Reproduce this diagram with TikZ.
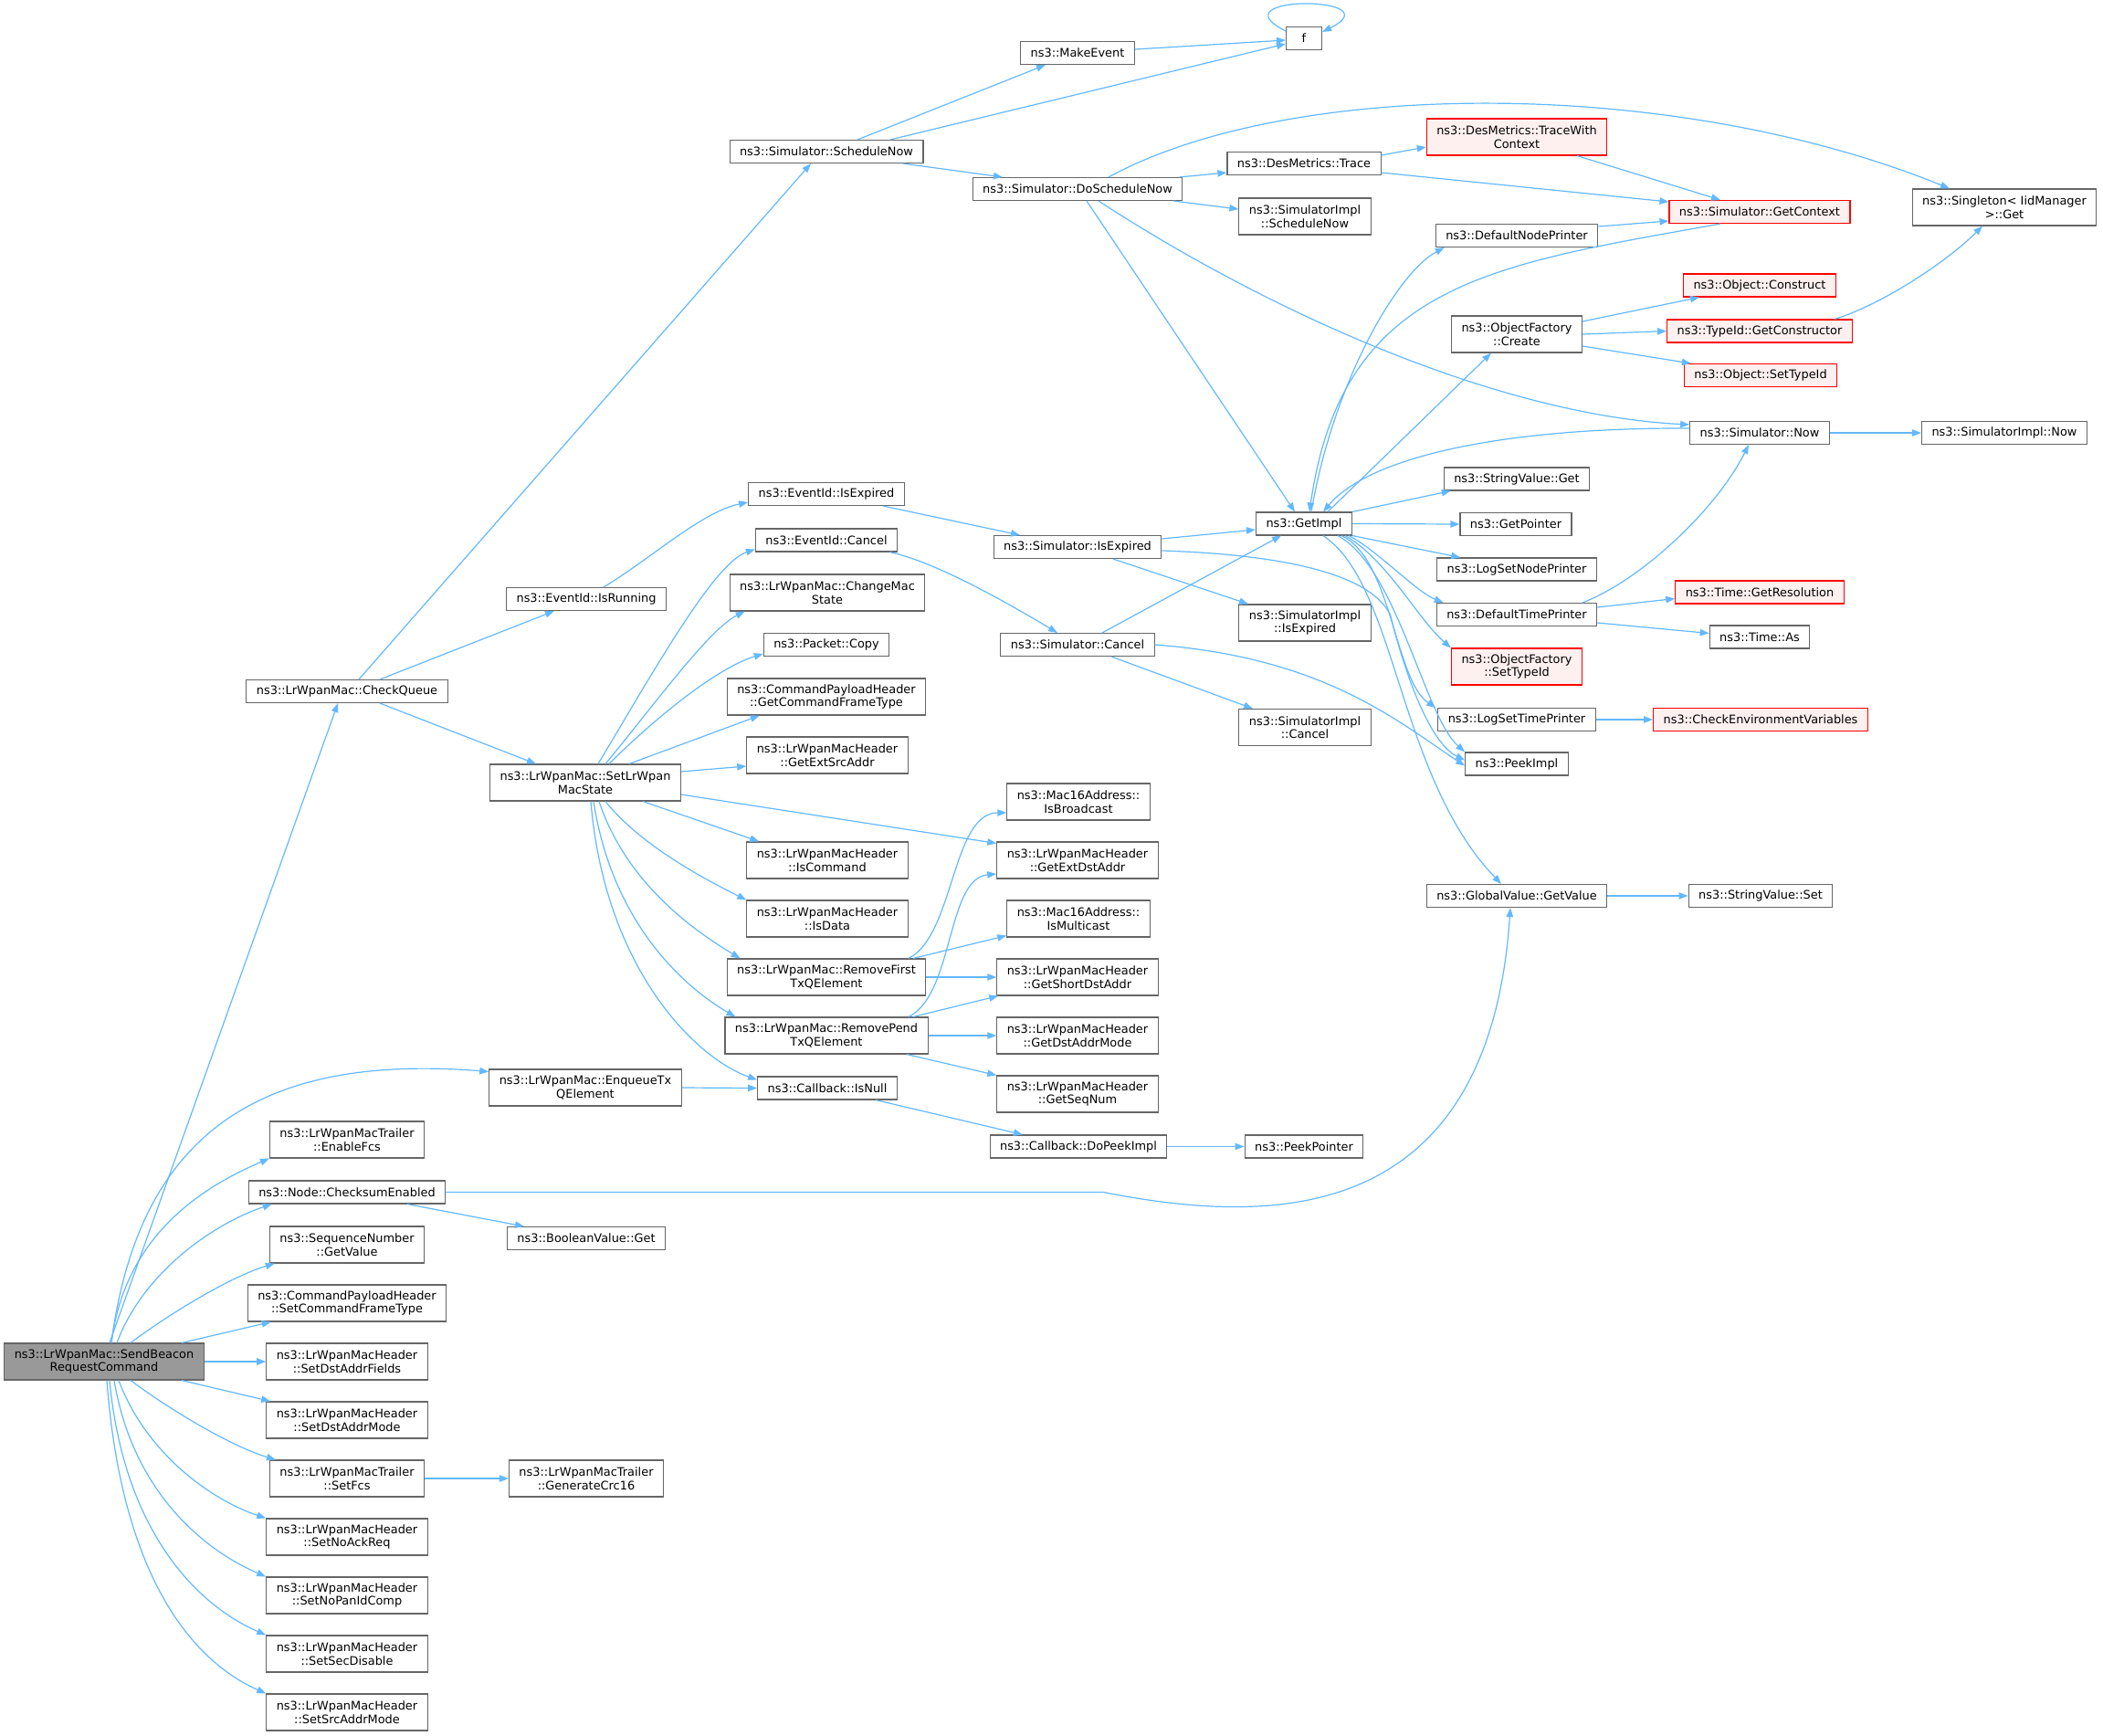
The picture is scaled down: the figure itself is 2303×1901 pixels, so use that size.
\documentclass[tikz,border=0pt]{standalone}
\usepackage{fontspec}
\setmainfont{DejaVu Sans}
\usetikzlibrary{arrows.meta}
\definecolor{edgeblue}{HTML}{63B8FF}
\definecolor{boxgrey}{HTML}{666666}
\definecolor{boxred}{HTML}{FF0000}
\definecolor{redfill}{HTML}{FFF0F0}
\definecolor{rootfill}{HTML}{999999}
\begin{document}
\begin{tikzpicture}[x=0.5pt, y=-0.5pt,
    fn/.style={draw=boxgrey, line width=0.55pt, fill=white, inner xsep=5.5pt, inner ysep=0pt,
      minimum height=12.5pt, align=center, font=\fontsize{6.45}{7.3}\selectfont},
    two/.style={minimum height=20pt},
    fnred/.style={fn, draw=boxred, fill=redfill},
    fnroot/.style={fn, fill=rootfill},
    callarrow/.style={draw=edgeblue, line width=0.6pt, -{Triangle[length=5pt,width=3.7pt]}}]
        \useasboundingbox (0,0) rectangle (2303,1901);

        % caller and first level
        \node[fnroot, two] (root) at (114,1491) {ns3::LrWpanMac::SendBeacon\\RequestCommand};
        \node[fn] (cq) at (380,757) {ns3::LrWpanMac::CheckQueue};
        \node[fn, two] (efcs) at (380,1248) {ns3::LrWpanMacTrailer\\::EnableFcs};
        \node[fn] (cse) at (380,1305.5) {ns3::Node::ChecksumEnabled};
        \node[fn, two] (sqv) at (380,1363) {ns3::SequenceNumber\\::GetValue};
        \node[fn, two] (scft) at (380,1427) {ns3::CommandPayloadHeader\\::SetCommandFrameType};
        \node[fn, two] (sdaf) at (380,1491) {ns3::LrWpanMacHeader\\::SetDstAddrFields};
        \node[fn, two] (sdam) at (380,1555) {ns3::LrWpanMacHeader\\::SetDstAddrMode};
        \node[fn, two] (sfcs) at (380,1619) {ns3::LrWpanMacTrailer\\::SetFcs};
        \node[fn, two] (snar) at (380,1683) {ns3::LrWpanMacHeader\\::SetNoAckReq};
        \node[fn, two] (snpc) at (380,1747) {ns3::LrWpanMacHeader\\::SetNoPanIdComp};
        \node[fn, two] (ssd) at (380,1811) {ns3::LrWpanMacHeader\\::SetSecDisable};
        \node[fn, two] (ssam) at (380,1875) {ns3::LrWpanMacHeader\\::SetSrcAddrMode};

        \node[fn] (ir) at (642,656) {ns3::EventId::IsRunning};
        \node[fn, two] (slm) at (641,857) {ns3::LrWpanMac::SetLrWpan\\MacState};
        \node[fn, two] (enq) at (641,1191) {ns3::LrWpanMac::EnqueueTx\\QElement};
        \node[fn] (bvg) at (642,1356) {ns3::BooleanValue::Get};
        \node[fn, two] (gcrc) at (642,1619) {ns3::LrWpanMacTrailer\\::GenerateCrc16};

        \node[fn] (sn) at (905,166) {ns3::Simulator::ScheduleNow};
        \node[fn] (eie) at (905,541) {ns3::EventId::IsExpired};
        \node[fn] (ecl) at (905,591.5) {ns3::EventId::Cancel};
        \node[fn, two] (cms) at (906,649) {ns3::LrWpanMac::ChangeMac\\State};
        \node[fn] (pcp) at (905,706) {ns3::Packet::Copy};
        \node[fn, two] (gcft) at (905,763) {ns3::CommandPayloadHeader\\::GetCommandFrameType};
        \node[fn, two] (gesa) at (906,827) {ns3::LrWpanMacHeader\\::GetExtSrcAddr};
        \node[fn, two] (isc) at (906,942) {ns3::LrWpanMacHeader\\::IsCommand};
        \node[fn, two] (isd) at (906,1006) {ns3::LrWpanMacHeader\\::IsData};
        \node[fn, two] (rfx) at (905,1070) {ns3::LrWpanMac::RemoveFirst\\TxQElement};
        \node[fn, two] (rpx) at (905,1134) {ns3::LrWpanMac::RemovePend\\TxQElement};
        \node[fn] (isn) at (906,1191.5) {ns3::Callback::IsNull};

        \node[fn] (mke) at (1180,58) {ns3::MakeEvent};
        \node[fn] (dsn) at (1180,207) {ns3::Simulator::DoScheduleNow};
        \node[fn] (sie) at (1180,599) {ns3::Simulator::IsExpired};
        \node[fn] (scl) at (1180,706) {ns3::Simulator::Cancel};
        \node[fn, two] (ibc) at (1181,878) {ns3::Mac16Address::\\IsBroadcast};
        \node[fn, two] (geda) at (1180,942) {ns3::LrWpanMacHeader\\::GetExtDstAddr};
        \node[fn, two] (imc) at (1181,1006) {ns3::Mac16Address::\\IsMulticast};
        \node[fn, two] (gsda) at (1180,1070) {ns3::LrWpanMacHeader\\::GetShortDstAddr};
        \node[fn, two] (gdam) at (1180,1134) {ns3::LrWpanMacHeader\\::GetDstAddrMode};
        \node[fn, two] (gsn) at (1180,1198) {ns3::LrWpanMacHeader\\::GetSeqNum};
        \node[fn] (dpi) at (1181,1255.5) {ns3::Callback::DoPeekImpl};

        \node[fn, minimum width=19.5pt] (fq) at (1428,42) {f};
        \node[fn] (dmt) at (1428,179) {ns3::DesMetrics::Trace};
        \node[fn, two] (sisn) at (1429,237) {ns3::SimulatorImpl\\::ScheduleNow};
        \node[fn] (gi) at (1428,573.5) {ns3::GetImpl};
        \node[fn, two] (siie) at (1429,682) {ns3::SimulatorImpl\\::IsExpired};
        \node[fn, two] (sicl) at (1429,796.5) {ns3::SimulatorImpl\\::Cancel};
        \node[fn] (ppt) at (1428,1255.5) {ns3::PeekPointer};

        \node[fnred, two] (twc) at (1661,150) {ns3::DesMetrics::TraceWith\\Context};
        \node[fn] (dnp) at (1661,258) {ns3::DefaultNodePrinter};
        \node[fn, two] (ofc) at (1661,366) {ns3::ObjectFactory\\::Create};
        \node[fn] (svg) at (1661,524.5) {ns3::StringValue::Get};
        \node[fn] (gp) at (1660,574) {ns3::GetPointer};
        \node[fn] (lsnp) at (1661,623.5) {ns3::LogSetNodePrinter};
        \node[fn] (dtp) at (1661,673) {ns3::DefaultTimePrinter};
        \node[fnred, two] (ofst) at (1661,730) {ns3::ObjectFactory\\::SetTypeId};
        \node[fn] (lstp) at (1661,788) {ns3::LogSetTimePrinter};
        \node[fn] (pki) at (1661,836.5) {ns3::PeekImpl};
        \node[fn] (ggv) at (1661,981) {ns3::GlobalValue::GetValue};

        \node[fnred] (gctx) at (1927,232) {ns3::Simulator::GetContext};
        \node[fnred] (ocn) at (1927,312.5) {ns3::Object::Construct};
        \node[fnred] (tgc) at (1927,362.5) {ns3::TypeId::GetConstructor};
        \node[fnred] (ost) at (1928,411) {ns3::Object::SetTypeId};
        \node[fn] (snow) at (1927,474) {ns3::Simulator::Now};
        \node[fnred] (tgr) at (1927,648.5) {ns3::Time::GetResolution};
        \node[fn] (tas) at (1927,697.5) {ns3::Time::As};
        \node[fnred] (cev) at (1928,788) {ns3::CheckEnvironmentVariables};
        \node[fn] (svs) at (1928,981) {ns3::StringValue::Set};

        \node[fn, two] (sgl) at (2195,227) {ns3::Singleton< IidManager\\>::Get};
        \node[fn] (sinow) at (2195,474) {ns3::SimulatorImpl::Now};

        % calls of SendBeaconRequestCommand
        \draw[callarrow] ([xshift=3pt]root.north) -- ([xshift=-5pt]cq.south);
        \draw[callarrow] ([xshift=4pt]root.north) .. controls +(30,-230) and +(-250,-20) .. ([yshift=-1.5pt]enq.north west);
        \draw[callarrow] ([xshift=4pt]root.north) .. controls +(15,-120) and +(-70,30) .. (efcs.south west);
        \draw[callarrow] ([xshift=7pt]root.north) .. controls +(30,-80) and +(-60,20) .. ([xshift=13pt]cse.south west);
        \draw[callarrow] ([xshift=14.5pt]root.north) .. controls +(40,-30) and +(-50,15) .. ([xshift=3pt]sqv.south west);
        \draw[callarrow] ([xshift=42.5pt]root.north) -- ([xshift=13pt]scft.south west);
        \draw[callarrow] (root.east) -- (sdaf.west);
        \draw[callarrow] ([xshift=42.5pt]root.south) -- ([xshift=2.5pt]sdam.north west);
        \draw[callarrow] ([xshift=14.5pt]root.south) .. controls +(40,30) and +(-50,-15) .. ([xshift=3.5pt]sfcs.north west);
        \draw[callarrow] ([xshift=8pt]root.south) .. controls +(30,80) and +(-60,-20) .. (snar.north west);
        \draw[callarrow] ([xshift=5.5pt]root.south) .. controls +(20,120) and +(-70,-30) .. (snpc.north west);
        \draw[callarrow] ([xshift=3pt]root.south) .. controls +(15,160) and +(-80,-35) .. (ssd.north west);
        \draw[callarrow] ([xshift=1.5pt]root.south) .. controls +(15,200) and +(-90,-40) .. (ssam.north west);

        \draw[callarrow] ([xshift=6.5pt]cq.north) -- ([xshift=-8.5pt]sn.south);
        \draw[callarrow] ([xshift=18pt]cq.north) -- ([xshift=-17.5pt]ir.south);
        \draw[callarrow] ([xshift=18pt]cq.south) -- ([xshift=-27pt]slm.north);
        \draw[callarrow] ([xshift=9.5pt]ir.north) .. controls +(50,-30) and +(-50,10) .. ([yshift=2pt]eie.south west);

        % SetLrWpanMacState
        \draw[callarrow] ([xshift=7pt]slm.north) .. controls +(60,-100) and +(-45,15) .. ([yshift=-5pt]ecl.west);
        \draw[callarrow] ([xshift=11pt]slm.north) .. controls +(50,-60) and +(-40,20) .. ([xshift=8.5pt]cms.south west);
        \draw[callarrow] ([xshift=13pt]slm.north) .. controls +(50,-50) and +(-50,15) .. ([yshift=-5pt]pcp.west);
        \draw[callarrow] ([xshift=24pt]slm.north) -- ([xshift=18pt]gcft.south west);
        \draw[callarrow] ([yshift=6pt]slm.east) -- ([yshift=-6pt]gesa.west);
        \draw[callarrow] ([yshift=-6.5pt]slm.east) -- ([yshift=-1pt]geda.north west);
        \draw[callarrow] ([xshift=31.5pt]slm.south) -- ([xshift=7pt]isc.north west);
        \draw[callarrow] ([xshift=11pt]slm.south) .. controls +(40,50) and +(-40,-20) .. (isd.north west);
        \draw[callarrow] ([xshift=7.5pt]slm.south) .. controls +(30,90) and +(-50,-30) .. ([xshift=7.5pt]rfx.north west);
        \draw[callarrow] ([xshift=4.5pt]slm.south) .. controls +(20,130) and +(-60,-35) .. ([xshift=6pt]rpx.north west);
        \draw[callarrow] ([xshift=3pt]slm.south) .. controls +(15,180) and +(-70,-25) .. ([yshift=-2pt]isn.north west);

        \draw[callarrow] (enq.east) -- (isn.west);
        \draw[callarrow] ([xshift=26.5pt]isn.south) -- ([xshift=-30.5pt]dpi.north);
        \draw[callarrow] (dpi.east) -- (ppt.west);

        \draw[callarrow] ([xshift=45pt]rfx.north) .. controls +(50,-25) and +(-60,0) .. ([yshift=-6pt]ibc.west);
        \draw[callarrow] ([xshift=47.5pt]rfx.north) -- ([yshift=1pt]imc.south west);
        \draw[callarrow] (rfx.east) -- (gsda.west);
        \draw[callarrow] ([xshift=45pt]rpx.north) .. controls +(50,-25) and +(-55,5) .. ([yshift=-7.5pt]geda.west);
        \draw[callarrow] ([xshift=47.5pt]rpx.north) -- ([xshift=1pt]gsda.south west);
        \draw[callarrow] (rpx.east) -- (gdam.west);
        \draw[callarrow] ([xshift=44pt]rpx.south) -- (gsn.north west);

        \draw[callarrow] ([xshift=31pt]eie.south) -- ([xshift=-31.5pt]sie.north);
        \draw[callarrow] ([xshift=34.5pt]ecl.south) .. controls +(50,10) and +(-50,-30) .. ([xshift=-11pt]scl.north);

        % scheduling
        \draw[callarrow] ([xshift=17pt]sn.north) -- ([xshift=-17.5pt]mke.south);
        \draw[callarrow] ([xshift=35pt]sn.north) -- ([yshift=-3pt]fq.west);
        \draw[callarrow] ([xshift=42pt]sn.south) -- ([xshift=-41pt]dsn.north);
        \draw[callarrow] ([yshift=2pt]mke.east) -- ([yshift=-1pt]fq.west);
        \draw[callarrow] ([yshift=-2.5pt]fq.north west) .. controls +(-80,-40) and +(80,-40) .. ([yshift=-3pt]fq.north east);

        \draw[callarrow] ([xshift=-2pt]dsn.north east) -- ([yshift=-5pt]dmt.west);
        \draw[callarrow] ([xshift=-5pt]dsn.south east) -- ([yshift=4pt]sisn.west);
        \draw[callarrow] ([xshift=5pt]dsn.south) -- ([xshift=-5pt]gi.north);
        \draw[callarrow] ([xshift=11.5pt]dsn.south) .. controls +(200,130) and +(-200,-10) .. ([yshift=4.5pt]snow.west);
        \draw[callarrow] ([xshift=17pt]dsn.north) .. controls +(200,-109) and +(-300,-122) .. ([xshift=-30pt]sgl.north);

        \draw[callarrow] ([yshift=4.5pt]dmt.east) -- ([yshift=-5.5pt]twc.west);
        \draw[callarrow] ([yshift=-5pt]dmt.east) -- ([yshift=5.5pt]gctx.west);
        \draw[callarrow] ([xshift=33pt]twc.south) -- ([xshift=-21.5pt]gctx.north);
        \draw[callarrow] ([yshift=5pt]dnp.east) -- ([yshift=-5pt]gctx.west);
        \draw[callarrow] ([xshift=-21.5pt]gctx.south) .. controls +(-250,45) and +(36,-251) .. ([xshift=3pt]gi.north);
        \draw[callarrow] ([yshift=2.5pt]snow.west) .. controls +(-201,-1) and +(51,-61) .. ([xshift=10.5pt]gi.north);
        \draw[callarrow] (snow.east) -- (sinow.west);

        % GetImpl
        \draw[callarrow] ([xshift=4pt]gi.north) .. controls +(24,-141) and +(-52,28) .. ([xshift=5pt]dnp.south west);
        \draw[callarrow] ([xshift=13pt]gi.north) -- ([xshift=-14pt]ofc.south);
        \draw[callarrow] (gi.north east) -- ([xshift=4pt]svg.south west);
        \draw[callarrow] (gi.east) -- (gp.west);
        \draw[callarrow] (gi.south east) -- ([xshift=13pt]lsnp.north west);
        \draw[callarrow] ([xshift=-2pt]gi.south east) .. controls +(30,15) and +(-30,-12) .. ([xshift=4pt]dtp.north west);
        \draw[callarrow] ([xshift=-4pt]gi.south east) .. controls +(45,25) and +(-35,-30) .. (ofst.north west);
        \draw[callarrow] ([xshift=-6pt]gi.south east) .. controls +(55,25) and +(-45,-30) .. ([xshift=-1pt]lstp.north west);
        \draw[callarrow] ([xshift=-8pt]gi.south east) .. controls +(65,35) and +(-45,-40) .. (pki.north west);
        \draw[callarrow] ([xshift=10.5pt]gi.south) .. controls +(81,54) and +(-114,-119) .. ([xshift=-8.5pt]ggv.north);

        \draw[callarrow] ([yshift=4.5pt]sie.east) -- ([yshift=-3.25pt]gi.west);
        \draw[callarrow] ([xshift=19.5pt]sie.south) -- ([xshift=-31pt]siie.north);
        \draw[callarrow] ([yshift=-2pt]sie.east) .. controls +(150,5) and +(-20,-40) .. ++(250,70)
            .. controls +(15,60) and +(-40,-20) .. ([yshift=2pt]pki.west);
        \draw[callarrow] ([xshift=13.5pt]scl.north) -- ([xshift=-12.5pt]gi.south);
        \draw[callarrow] ([xshift=18.5pt]scl.south) -- ([xshift=-28.5pt]sicl.north);
        \draw[callarrow] (scl.east) .. controls +(186,14) and +(-73,-48) .. ([yshift=-1pt]pki.west);

        \draw[callarrow] ([xshift=36pt]dtp.north) .. controls +(65,-25) and +(-35,70) .. ([xshift=-6pt]snow.south);
        \draw[callarrow] ([yshift=4pt]dtp.east) -- ([yshift=-3.5pt]tgr.west);
        \draw[callarrow] ([yshift=-4.5pt]dtp.east) -- ([yshift=2pt]tas.west);
        \draw[callarrow] (lstp.east) -- (cev.west);

        \draw[callarrow] ([yshift=7pt]ofc.east) -- ([xshift=9pt]ocn.south west);
        \draw[callarrow] (ofc.east) -- (tgc.west);
        \draw[callarrow] ([yshift=-6.5pt]ofc.east) -- ([xshift=4pt]ost.north west);
        \draw[callarrow] ([xshift=41pt]tgc.north) .. controls +(50,-15) and +(-40,40) .. ([xshift=-12pt]sgl.south);

        \draw[callarrow] (ggv.east) -- (svs.west);
        \draw[callarrow] ([xshift=33pt]cse.south) -- ([xshift=-34pt]bvg.north);
        \draw[callarrow] (cse.east) -- ++(720,0) .. controls +(173,34) and +(-24,357) .. ([xshift=-3.5pt]ggv.south);
        \draw[callarrow] (sfcs.east) -- (gcrc.west);
\end{tikzpicture}
\end{document}
